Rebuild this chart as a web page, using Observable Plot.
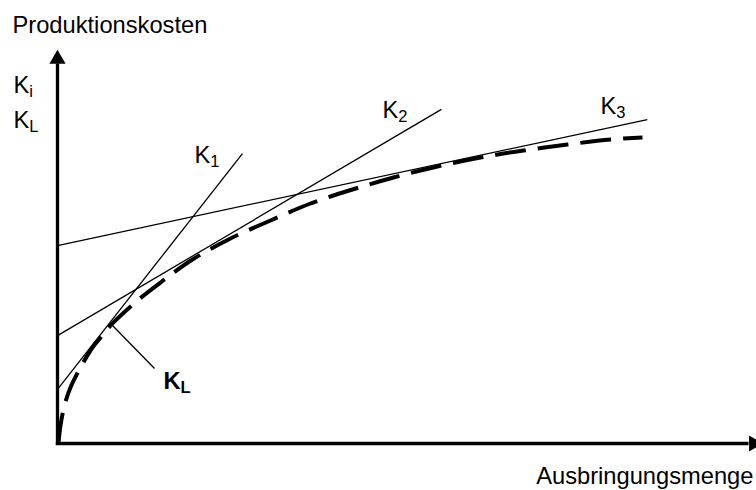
<!DOCTYPE html>
<html>
<head>
<meta charset="utf-8">
<script src="https://cdn.jsdelivr.net/npm/d3@7"></script>
<script src="https://cdn.jsdelivr.net/npm/@observablehq/plot@0.6"></script>
<style>
  html, body { margin: 0; padding: 0; background: #fff; }
</style>
</head>
<body>
<div id="chart"></div>
<script>
// ---- Data (abstract units: x = Ausbringungsmenge 0..100, y = Produktionskosten 0..100) ----
// Short-run cost lines K1, K2, K3 (start and end points)
const kSub = ["1", "2", "3"];
const kX1 = [0, 0, 0];
const kY1 = [13.7, 27.3, 50.1];
const kX2 = [26.5, 55.0, 84.5];
const kY2 = [73.4, 84.6, 82.0];

// Long-run cost curve KL (envelope, dashed)
const klX = [0.14, 0.43, 1.00, 1.86, 3.30, 5.01, 6.16, 7.88, 11.46, 14.76, 19.34, 24.79, 30.52, 36.25, 42.26, 48.14, 54.44, 60.60, 66.76, 73.07, 79.23, 83.81];
const klY = [0, 4.56, 9.62, 14.18, 19.24, 24.30, 26.8, 30.4, 36.20, 40.76, 46.58, 51.90, 56.46, 60.76, 64.30, 67.34, 70.13, 72.41, 74.18, 75.70, 76.96, 77.47];

// Label anchors (text, subscript, x, y)
const lblMain = ["K", "K", "K", "K", "K"];
const lblSub  = ["1", "2", "3", "i", "L"];
const lblX    = [19.63, 46.56, 77.79, -6.30, -6.30];
const lblY    = [70.9, 82.28, 83.54, 88.68, 79.75];

// Bold KL label and its leader line
const klLabelX = [15.19];
const klLabelY = [13.92];
const leaderX = [7.88, 13.90];
const leaderY = [29.87, 18.99];

// Axis titles
const yTitle = "Produktionskosten";
const xTitle = "Ausbringungsmenge";
const axisEnd = [99.75, 97.34]; // arrowhead centres for x and y axes
const axisShaftEnd = [99.0, 96.2];

// ---- Build tables ----
const kLines = kSub.map((s, i) => ({ s, x1: kX1[i], y1: kY1[i], x2: kX2[i], y2: kY2[i] }));
const klCurve = klX.map((x, i) => ({ x, y: klY[i] }));
const labels = lblMain.map((t, i) => ({ t, sub: lblSub[i], x: lblX[i], y: lblY[i] }));
const klLabel = [{ x: klLabelX[0], y: klLabelY[0], t: "K", sub: "L" }];
const leader = [{ x1: leaderX[0], y1: leaderY[0], x2: leaderX[1], y2: leaderY[1] }];

const FS = 23.7, SUB = 16.5;

const chart = Plot.plot({
  width: 756,
  height: 490,
  marginLeft: 57,
  marginRight: 1,
  marginTop: 48,
  marginBottom: 47,
  x: { domain: [0, 100], axis: null },
  y: { domain: [0, 100], axis: null },
  style: { fontFamily: "'Liberation Sans', Arial, Helvetica, sans-serif", color: "black", background: "white", overflow: "hidden" },
  marks: [
    // axes
    Plot.link([{ x1: 0, y1: -0.4, x2: 0, y2: axisShaftEnd[1] }], { x1: "x1", y1: "y1", x2: "x2", y2: "y2", stroke: "black", strokeWidth: 3.3 }),
    Plot.link([{ x1: -0.24, y1: 0, x2: axisShaftEnd[0], y2: 0 }], { x1: "x1", y1: "y1", x2: "x2", y2: "y2", stroke: "black", strokeWidth: 3.3 }),
    Plot.dot([{ x: 0, y: axisEnd[1] }], { x: "x", y: "y", symbol: "triangle", r: 6, fill: "black", stroke: "none" }),
    Plot.dot([{ x: axisEnd[0], y: 0 }], { x: "x", y: "y", symbol: "triangle", r: 6, fill: "black", stroke: "none", rotate: 90 }),
    // short-run cost lines
    Plot.link(kLines, { x1: "x1", y1: "y1", x2: "x2", y2: "y2", stroke: "black", strokeWidth: 1.3 }),
    // long-run envelope
    Plot.line(klCurve, { x: "x", y: "y", curve: "catmull-rom", stroke: "black", strokeWidth: 4, strokeDasharray: "31,12", strokeLinecap: "butt" }),
    // leader line
    Plot.link(leader, { x1: "x1", y1: "y1", x2: "x2", y2: "y2", stroke: "black", strokeWidth: 1.3 }),
    // labels
    Plot.text(labels, { x: "x", y: "y", text: "t", textAnchor: "start", lineAnchor: "bottom", fontSize: FS, fill: "black" }),
    Plot.text(labels, { x: "x", y: "y", text: "sub", textAnchor: "start", lineAnchor: "bottom", fontSize: SUB, dx: 15.8, dy: 4, fill: "black" }),
    Plot.text(klLabel, { x: "x", y: "y", text: "t", textAnchor: "start", lineAnchor: "bottom", fontSize: FS, fontWeight: "bold", fill: "black" }),
    Plot.text(klLabel, { x: "x", y: "y", text: "sub", textAnchor: "start", lineAnchor: "bottom", fontSize: SUB, fontWeight: "bold", dx: 17, dy: 4, fill: "black" }),
    // axis titles
    Plot.text([yTitle], { x: -6.45, y: 104.05, text: d => d, textAnchor: "start", lineAnchor: "bottom", fontSize: FS, fill: "black" }),
    Plot.text([xTitle], { x: 99.71, y: -10.13, text: d => d, textAnchor: "end", lineAnchor: "bottom", fontSize: FS, fill: "black" })
  ]
});
document.getElementById("chart").appendChild(chart);
</script>
</body>
</html>
